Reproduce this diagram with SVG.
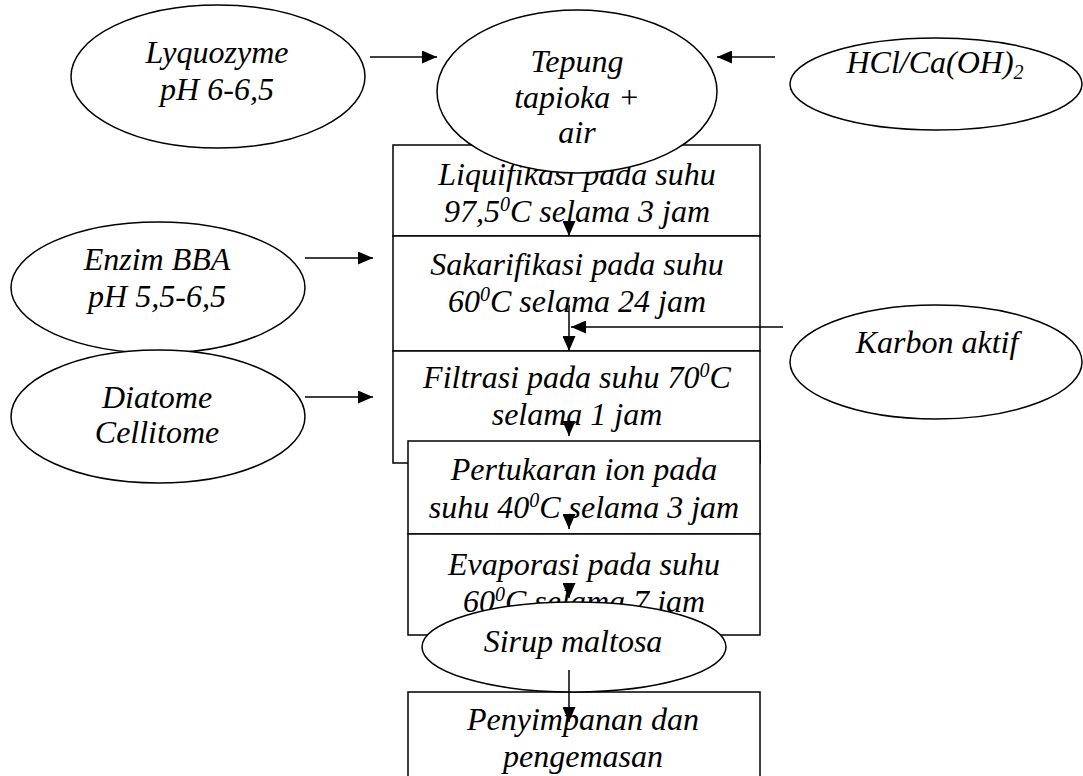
<svg xmlns="http://www.w3.org/2000/svg" width="1083" height="776" viewBox="0 0 1083 776">
<style>
.s{fill:#fff;stroke:#000;stroke-width:1.5}
.t{font-family:"Liberation Serif","Times New Roman",serif;font-style:italic;font-size:32px;text-anchor:middle;fill:#000}
.sup{font-size:20px}
.c{fill:none;stroke:#000;stroke-width:1.5;marker-end:url(#ah)}
</style>
<defs>
<marker id="ah" markerUnits="userSpaceOnUse" markerWidth="15" markerHeight="13" refX="15" refY="6.5" orient="auto">
<path d="M0,0 L15,6.5 L0,13 z" fill="#000"/>
</marker>
</defs>
<rect width="1083" height="776" fill="#fff"/>
<g id="lyquozyme">
<ellipse class="s" cx="218" cy="76.5" rx="147" ry="71.5"/>
<text class="t" x="217" y="63">Lyquozyme</text>
<text class="t" x="217" y="100">pH 6-6,5</text>
</g>
<g id="hcl">
<ellipse class="s" cx="936" cy="84" rx="146" ry="46"/>
<text class="t" x="935" y="73">HCl/Ca(OH)<tspan class="sup" dy="6">2</tspan></text>
</g>
<g id="liquifikasi">
<rect class="s" x="393" y="145" width="367" height="91"/>
<text class="t" x="577" y="185">Liquifikasi pada suhu</text>
<text class="t" x="577" y="222">97,5<tspan class="sup" dy="-11">0</tspan><tspan dy="11">C selama 3 jam</tspan></text>
</g>
<g id="tepung">
<ellipse class="s" cx="577" cy="91.5" rx="140" ry="81.5"/>
<text class="t" x="577" y="72">Tepung</text>
<text class="t" x="577" y="108">tapioka +</text>
<text class="t" x="577" y="143">air</text>
</g>
<g id="sakarifikasi">
<rect class="s" x="393" y="236" width="367" height="115"/>
<text class="t" x="577" y="275">Sakarifikasi pada suhu</text>
<text class="t" x="577" y="312">60<tspan class="sup" dy="-11">0</tspan><tspan dy="11">C selama 24 jam</tspan></text>
</g>
<g id="filtrasi">
<rect class="s" x="393" y="351" width="367" height="112"/>
<text class="t" x="577" y="388">Filtrasi pada suhu 70<tspan class="sup" dy="-11">0</tspan><tspan dy="11">C</tspan></text>
<text class="t" x="577" y="425">selama 1 jam</text>
</g>
<g id="pertukaran">
<rect class="s" x="408" y="441" width="352" height="93"/>
<text class="t" x="584" y="480">Pertukaran ion pada</text>
<text class="t" x="584" y="518">suhu 40<tspan class="sup" dy="-11">0</tspan><tspan dy="11">C selama 3 jam</tspan></text>
</g>
<g id="evaporasi">
<rect class="s" x="408" y="534" width="352" height="101"/>
<text class="t" x="584" y="575">Evaporasi pada suhu</text>
<text class="t" x="584" y="612">60<tspan class="sup" dy="-11">0</tspan><tspan dy="11">C selama 7 jam</tspan></text>
</g>
<g id="penyimpanan">
<rect class="s" x="408" y="692" width="352" height="100"/>
<text class="t" x="583" y="730">Penyimpanan dan</text>
<text class="t" x="583" y="767">pengemasan</text>
</g>
<g id="sirup">
<ellipse class="s" cx="574" cy="647" rx="152" ry="45"/>
<text class="t" x="573" y="652">Sirup maltosa</text>
</g>
<g id="enzim">
<ellipse class="s" cx="158" cy="287.5" rx="147" ry="65.5"/>
<text class="t" x="157" y="270">Enzim BBA</text>
<text class="t" x="157" y="307">pH 5,5-6,5</text>
</g>
<g id="diatome">
<ellipse class="s" cx="158" cy="416.5" rx="147" ry="66.5"/>
<text class="t" x="157" y="408">Diatome</text>
<text class="t" x="157" y="443">Cellitome</text>
</g>
<g id="karbon">
<ellipse class="s" cx="936" cy="362" rx="146" ry="57"/>
<text class="t" x="937" y="353">Karbon aktif</text>
</g>
<g id="connectors">
<path class="c" d="M370,57 L437,57"/>
<path class="c" d="M775,57 L717,57"/>
<path class="c" d="M569,221 L569,236"/>
<path class="c" d="M305,258 L373,258"/>
<path class="c" d="M783,327 L571,327"/>
<path class="c" d="M569,305 L569,351"/>
<path class="c" d="M305,397 L373,397"/>
<path class="c" d="M569,421 L569,436"/>
<path class="c" d="M569,514 L569,529"/>
<path class="c" d="M569,583 L569,598"/>
<path class="c" d="M569,670 L569,722"/>
</g>
</svg>
